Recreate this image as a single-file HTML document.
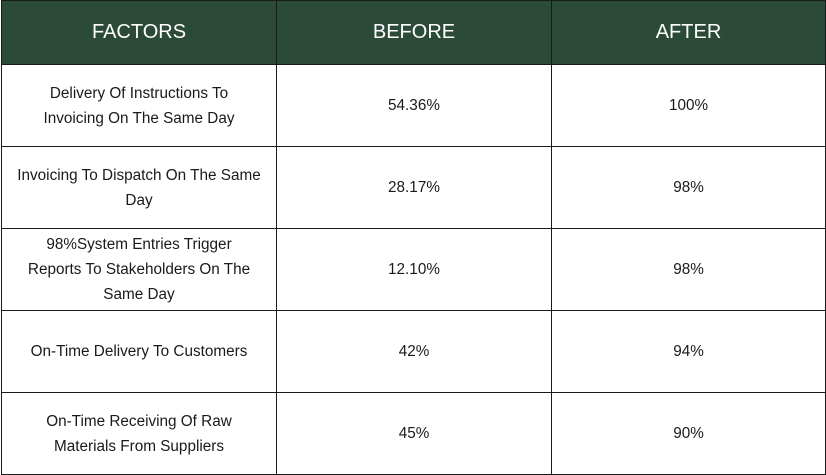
<!DOCTYPE html>
<html><head><meta charset="utf-8"><style>
html,body{margin:0;padding:0;background:#fff;}
body{width:826px;height:475px;position:relative;overflow:hidden;font-family:"Liberation Sans",sans-serif;}
table{position:absolute;left:1px;top:0;border-collapse:collapse;width:824px;table-layout:fixed;}
td,th{border:1.5px solid #1a1a1a;text-align:center;vertical-align:middle;padding:0 8px;}
th{background:#2b4a37;color:#fff;font-weight:normal;font-size:20px;height:63px;}
td{font-size:15.3px;color:#1a1a1a;line-height:25px;height:81px;}
</style></head><body>
<table>
<colgroup><col style="width:275px"><col style="width:275px"><col style="width:274px"></colgroup>
<tr><th>FACTORS</th><th>BEFORE</th><th>AFTER</th></tr>
<tr><td>Delivery Of Instructions To<br>Invoicing On The Same Day</td><td>54.36%</td><td>100%</td></tr>
<tr><td>Invoicing To Dispatch On The Same<br>Day</td><td>28.17%</td><td>98%</td></tr>
<tr><td>98%System Entries Trigger<br>Reports To Stakeholders On The<br>Same Day</td><td>12.10%</td><td>98%</td></tr>
<tr><td>On-Time Delivery To Customers</td><td>42%</td><td>94%</td></tr>
<tr><td>On-Time Receiving Of Raw<br>Materials From Suppliers</td><td>45%</td><td>90%</td></tr>
</table>
</body></html>
